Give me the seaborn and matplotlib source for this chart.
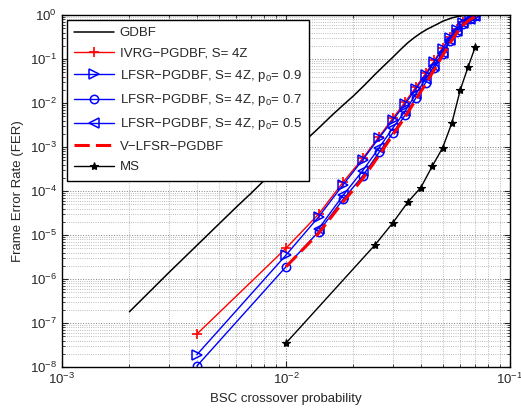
import numpy as np
import pandas as pd
import matplotlib
matplotlib.use("Agg")
import matplotlib.pyplot as plt
import seaborn as sns

# ---- data ----
gdbf_x = [0.002, 0.003, 0.004, 0.005, 0.006, 0.007, 0.008, 0.009, 0.01, 0.012, 0.014,
          0.016, 0.018, 0.02, 0.0225, 0.025, 0.0275, 0.03, 0.0325, 0.035, 0.0375, 0.04,
          0.0425, 0.045, 0.0475, 0.05, 0.055, 0.06, 0.065]
gdbf_y = [1.8e-7, 1.4e-6, 5.8e-6, 1.75e-5, 4.3e-5, 9e-5, 1.75e-4, 3.1e-4, 5.3e-4, 1.3e-3, 2.7e-3,
          5.2e-3, 9.0e-3, 1.45e-2, 2.6e-2, 4.5e-2, 7.2e-2, 0.11, 0.165, 0.235, 0.31, 0.39,
          0.47, 0.545, 0.625, 0.72, 0.86, 0.95, 0.99]

p_x = [0.004, 0.01, 0.014, 0.018, 0.022, 0.026, 0.03, 0.034, 0.038, 0.042, 0.046,
       0.05, 0.054, 0.058, 0.062, 0.066, 0.07]
ivrg_y = [5.6e-8, 5.0e-6, 3.0e-5, 1.6e-4, 5.5e-4, 1.7e-3, 4.5e-3, 1.05e-2, 2.3e-2, 4.7e-2,
          9.3e-2, 0.18, 0.31, 0.48, 0.68, 0.82, 0.95]
lfsr09_y = [1.9e-8, 3.5e-6, 2.6e-5, 1.4e-4, 5.1e-4, 1.6e-3, 4.1e-3, 9.5e-3, 2.1e-2, 4.3e-2,
            8.6e-2, 0.17, 0.30, 0.46, 0.66, 0.81, 0.95]
lfsr07_y = [1.05e-8, 1.9e-6, 1.2e-5, 6.5e-5, 2.2e-4, 7.5e-4, 2.1e-3, 5.3e-3, 1.3e-2, 2.9e-2,
            6.2e-2, 0.13, 0.25, 0.42, 0.63, 0.81, 0.95]
lfsr05_x = [0.014, 0.018, 0.022, 0.026, 0.03, 0.034, 0.038, 0.042, 0.046,
            0.05, 0.054, 0.058, 0.062, 0.066, 0.07]
lfsr05_y = [1.4e-5, 8.0e-5, 2.9e-4, 9.5e-4, 2.7e-3, 6.5e-3, 1.6e-2, 3.5e-2,
            7.1e-2, 0.14, 0.27, 0.44, 0.66, 0.81, 0.95]
vlfsr_x = [0.01, 0.014, 0.018, 0.022, 0.026, 0.03, 0.034, 0.038, 0.042, 0.046,
           0.05, 0.054, 0.058, 0.062, 0.066, 0.07]
vlfsr_y = [1.9e-6, 1.1e-5, 5.7e-5, 1.9e-4, 6.4e-4, 1.9e-3, 4.8e-3, 1.2e-2, 2.7e-2,
           5.8e-2, 0.12, 0.23, 0.40, 0.60, 0.78, 0.92]
ms_x = [0.01, 0.025, 0.03, 0.035, 0.04, 0.045, 0.05, 0.055, 0.06, 0.065, 0.07]
ms_y = [3.5e-8, 6.0e-6, 1.9e-5, 5.6e-5, 1.2e-4, 3.7e-4, 9.5e-4, 3.5e-3, 2.0e-2, 6.6e-2, 0.19]

labels = ["GDBF",
          "IVRG\u2212PGDBF, S= 4Z",
          "LFSR\u2212PGDBF, S= 4Z, p$_0$= 0.9",
          "LFSR\u2212PGDBF, S= 4Z, p$_0$= 0.7",
          "LFSR\u2212PGDBF, S= 4Z, p$_0$= 0.5",
          "V\u2212LFSR\u2212PGDBF",
          "MS"]

sns.set_style("ticks")
plt.rcParams['font.family'] = ['Liberation Sans', 'DejaVu Sans']
plt.rcParams['mathtext.fontset'] = 'custom'
plt.rcParams['mathtext.rm'] = 'Liberation Sans'
plt.rcParams['mathtext.it'] = 'Liberation Sans'
plt.rcParams['mathtext.default'] = 'regular'

fig = plt.figure(figsize=(5.21, 4.13), dpi=100)
ax = fig.add_axes([62/521, 1-367/413, (510-62)/521, (367-15)/413])

def draw(x, y, label, **kw):
    sns.lineplot(x=x, y=y, ax=ax, label=label, sort=True, estimator=None, **kw)

draw(gdbf_x, gdbf_y, labels[0], color='black', lw=1.1)
draw(p_x, ivrg_y, labels[1], color='red', lw=1.0, marker='+', markersize=6.5,
     mec='red', mew=1.2)
draw(p_x, lfsr09_y, labels[2], color='blue', lw=1.0, marker='>', markersize=7,
     mfc='none', mec='blue', mew=1.1)
draw(p_x, lfsr07_y, labels[3], color='blue', lw=1.0, marker='o', markersize=6,
     mfc='none', mec='blue', mew=1.1)
draw(lfsr05_x, lfsr05_y, labels[4], color='blue', lw=1.0, marker='<', markersize=7,
     mfc='none', mec='blue', mew=1.1)
draw(vlfsr_x, vlfsr_y, labels[5], color='red', lw=2.2)
draw(ms_x, ms_y, labels[6], color='black', lw=1.0, marker='*', markersize=6,
     mec='black', mfc='black', mew=0.8)

lines = ax.get_lines()
lines[5].set_dashes((5, 2))

ax.set_xscale('log')
ax.set_yscale('log')
ax.set_xlim(1e-3, 1e-1)
ax.set_ylim(1e-8, 1e0)
ax.set_yticks([10.0**k for k in range(-8, 1)])
ax.set_xticks([1e-3, 1e-2, 1e-1])

ax.grid(True, which='major', linestyle=':', color='0.5', lw=0.7)
ax.grid(True, which='minor', linestyle=':', color='0.65', lw=0.6)
ax.tick_params(which='both', direction='in', top=True, right=True, labelsize=9.5)
ax.tick_params(which='major', length=4)
ax.tick_params(which='minor', length=2)
for s in ax.spines.values():
    s.set_linewidth(1.0)
    s.set_color('black')

ax.set_xlabel("BSC crossover probability", fontsize=9.5, labelpad=4)
ax.set_ylabel("Frame Error Rate (FER)", fontsize=9.5, labelpad=4)

leg = ax.legend(loc='upper left', bbox_to_anchor=(5/448, 1 - 5/352), borderaxespad=0,
                fontsize=9.5, handlelength=3.0, labelspacing=0.62, borderpad=0.55,
                handletextpad=0.45, frameon=True, fancybox=False, edgecolor='black',
                framealpha=1)
leg.get_frame().set_linewidth(1.0)

fig.savefig("out.png", dpi=100)
